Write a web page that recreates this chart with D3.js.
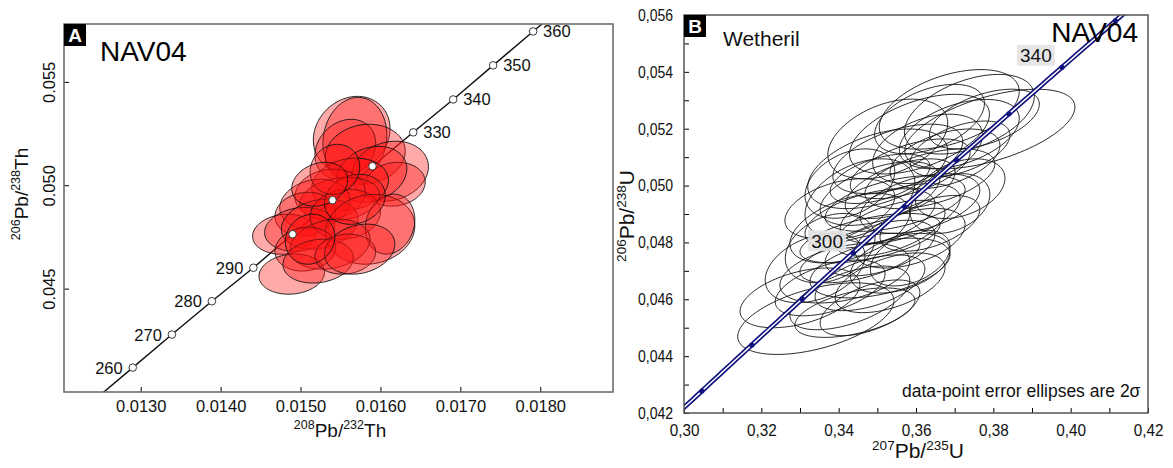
<!DOCTYPE html>
<html>
<head>
<meta charset="utf-8">
<script src="https://cdn.jsdelivr.net/npm/d3@7"></script>
<style>
  body { margin: 0; background: #fff; }
  text { font-family: "Liberation Sans", Arial, sans-serif; }
</style>
</head>
<body>
<script>
// ---- Panel A : 206Pb/238U vs 208Pb/232Th, 2s error ellipses
const thX   = [0.01564,0.01568,0.01556,0.01581,0.01612,0.01618,0.01589,0.01562,0.01537,0.01549,0.01518,0.01506,0.01480,0.01499,0.01524,0.01556,0.01587,0.01612,0.01537,0.01506,0.01489,0.01522,0.01556,0.01574,0.01512,0.01568,0.01543,0.01524];
const thY   = [0.05246,0.05222,0.05174,0.05150,0.05068,0.05005,0.05053,0.05005,0.04957,0.04932,0.04908,0.04860,0.04763,0.04787,0.04812,0.04860,0.04787,0.04812,0.04715,0.04691,0.04570,0.04633,0.04667,0.04691,0.04739,0.04932,0.05077,0.05005];
const thSx  = [0.00048,0.00040,0.00038,0.00050,0.00048,0.00038,0.00044,0.00048,0.00044,0.00050,0.00044,0.00038,0.00040,0.00044,0.00048,0.00044,0.00056,0.00031,0.00050,0.00038,0.00041,0.00044,0.00038,0.00044,0.00031,0.00038,0.00031,0.00035];
const thSy  = [0.00184,0.00203,0.00145,0.00145,0.00145,0.00106,0.00135,0.00126,0.00121,0.00106,0.00121,0.00106,0.00097,0.00106,0.00121,0.00121,0.00169,0.00145,0.00121,0.00106,0.00097,0.00106,0.00097,0.00121,0.00121,0.00121,0.00121,0.00106];
const thRho = [0.15,0.1,0.2,0.1,0.15,0.1,0.2,0.15,0.1,0.2,0.15,0.1,0.1,0.15,0.2,0.1,0.1,0.15,0.2,0.1,0.1,0.15,0.1,0.2,0.1,0.15,0.1,0.2];

// concordia marks (Ma) in panel A
const concAgeA = [260,270,280,290,300,310,320,330,340,350,360];
const concXA   = [0.01290,0.01339,0.01389,0.01441,0.01490,0.01540,0.01590,0.01641,0.01691,0.01741,0.01791];
const concYA   = [0.04118,0.04278,0.04439,0.04601,0.04763,0.04928,0.05092,0.05256,0.05415,0.05580,0.05744];
const concLabelA = [260,270,280,290,330,340,350,360];

const ticksXA = [0.0130,0.0140,0.0150,0.0160,0.0170,0.0180];
const ticksYA = [0.045,0.050,0.055];

// ---- Panel B : Wetherill concordia 206Pb/238U vs 207Pb/235U
const uX   = [0.3341,0.3300,0.3378,0.3429,0.3416,0.3339,0.3481,0.3507,0.3455,0.3507,0.3559,0.3378,0.3429,0.3481,0.3533,0.3559,0.3585,0.3455,0.3507,0.3559,0.3610,0.3636,0.3403,0.3481,0.3546,0.3501,0.3553,0.3585,0.3636,0.3630,0.3675,0.3609,0.3712,0.3714,0.3738,0.3791,0.3777,0.3686,0.3527,0.3714,0.3688,0.3533,0.3481,0.3442,0.3585,0.3507,0.3429,0.3635];
const uY   = [0.04532,0.04605,0.04640,0.04605,0.04692,0.04710,0.04658,0.04710,0.04745,0.04780,0.04727,0.04780,0.04850,0.04884,0.04850,0.04902,0.04815,0.04954,0.04972,0.04989,0.04937,0.04867,0.04919,0.04815,0.04937,0.05059,0.05094,0.05059,0.05024,0.05129,0.05094,0.05181,0.05181,0.05129,0.05251,0.05199,0.05234,0.05268,0.05164,0.04989,0.04937,0.04658,0.04570,0.04553,0.04745,0.05024,0.05007,0.05234];
const uSx  = [0.0202,0.0155,0.0142,0.0155,0.0168,0.0129,0.0142,0.0181,0.0155,0.0142,0.0129,0.0116,0.0155,0.0168,0.0142,0.0155,0.0142,0.0142,0.0155,0.0142,0.0155,0.0129,0.0142,0.0181,0.0181,0.0181,0.0168,0.0155,0.0168,0.0142,0.0142,0.0181,0.0155,0.0129,0.0168,0.0220,0.0142,0.0181,0.0155,0.0116,0.0103,0.0142,0.0129,0.0155,0.0103,0.0129,0.0116,0.0142];
const uSy  = [0.00126,0.00105,0.00098,0.00112,0.00105,0.00122,0.00098,0.00105,0.00087,0.00098,0.00105,0.00122,0.00122,0.00105,0.00098,0.00105,0.00105,0.00140,0.00112,0.00105,0.00105,0.00098,0.00105,0.00087,0.00098,0.00140,0.00122,0.00105,0.00105,0.00122,0.00105,0.00140,0.00122,0.00098,0.00140,0.00140,0.00105,0.00140,0.00140,0.00105,0.00105,0.00105,0.00098,0.00087,0.00098,0.00087,0.00122,0.00122];
const uRho = [0.5,0.45,0.5,0.55,0.4,0.35,0.5,0.45,0.55,0.5,0.4,0.3,0.45,0.5,0.55,0.5,0.45,0.4,0.5,0.55,0.45,0.5,0.4,0.55,0.5,0.45,0.5,0.55,0.5,0.4,0.45,0.5,0.45,0.5,0.45,0.55,0.5,0.45,0.4,0.35,0.3,0.5,0.55,0.5,0.4,0.5,0.35,0.45];

// decay constants (1/yr) for the Wetherill concordia
const L238 = 1.55125e-10, L235 = 9.8485e-10;
const concAgeB = [270,280,290,300,310,320,330,340,350];
const concLabelB = [300,340];

const ticksXB = [0.30,0.31,0.32,0.33,0.34,0.35,0.36,0.37,0.38,0.39,0.40,0.41,0.42];
const ticksYB = [0.042,0.043,0.044,0.045,0.046,0.047,0.048,0.049,0.050,0.051,0.052,0.053,0.054,0.055,0.056];

const svg = d3.select("body").append("svg").attr("width", 1173).attr("height", 468);
const defs = svg.append("defs");

function ellipsePath(cx, cy, sx, sy, rho, xs, ys) {
  const k = Math.sqrt(1 - rho * rho);
  const pts = d3.range(0, 120).map(i => {
    const t = i / 120 * 2 * Math.PI;
    return [xs(cx + sx * Math.cos(t)), ys(cy + sy * (rho * Math.cos(t) + k * Math.sin(t)))];
  });
  return d3.line()(pts) + "Z";
}

function supLabel(g, parts, size, supSize) {
  // parts: [sup, base, sup, base]
  const t = g.append("text").attr("font-size", size).attr("fill", "#111");
  parts.forEach((p, i) => {
    const s = t.append("tspan").text(p);
    if (i % 2 === 0) s.attr("font-size", supSize).attr("dy", -size * 0.4);
    else s.attr("dy", size * 0.4);
  });
  return t;
}

// ================= Panel A =================
const xA = d3.scaleLinear().domain([0.01204, 0.01891]).range([64, 613]);
const yA = d3.scaleLinear().domain([0.0400, 0.0578]).range([392, 24]);
defs.append("clipPath").attr("id", "clipA").append("rect")
  .attr("x", 64).attr("y", 24).attr("width", 549).attr("height", 368);

const gA = svg.append("g");
const n = concXA.length;
const lineA = [[2 * concXA[0] - concXA[1], 2 * concYA[0] - concYA[1]]]
  .concat(concXA.map((x, i) => [x, concYA[i]]))
  .concat([[2 * concXA[n - 1] - concXA[n - 2], 2 * concYA[n - 1] - concYA[n - 2]]]);
gA.append("path")
  .attr("clip-path", "url(#clipA)")
  .attr("d", d3.line().x(d => xA(d[0])).y(d => yA(d[1]))(lineA))
  .attr("fill", "none").attr("stroke", "#111").attr("stroke-width", 1.4);

gA.append("g").selectAll("path")
  .data(thX.map((x, i) => i))
  .enter().append("path")
  .attr("d", i => ellipsePath(thX[i], thY[i], thSx[i], thSy[i], thRho[i], xA, yA))
  .attr("fill", "#ff1010").attr("fill-opacity", 0.36)
  .attr("stroke", "#111").attr("stroke-width", 0.9);

gA.append("g").selectAll("circle")
  .data(concAgeA.map((a, i) => i))
  .enter().append("circle")
  .attr("cx", i => xA(concXA[i]))
  .attr("cy", i => yA(concYA[i]))
  .attr("r", 3.8)
  .attr("fill", "#fff").attr("stroke", "#222").attr("stroke-width", 0.9);

gA.append("g").selectAll("text")
  .data(concLabelA)
  .enter().append("text")
  .attr("x", a => { const i = concAgeA.indexOf(a); return a < 300 ? xA(concXA[i]) - 10 : xA(concXA[i]) + 10; })
  .attr("y", a => yA(concYA[concAgeA.indexOf(a)]) + 6)
  .attr("text-anchor", a => a < 300 ? "end" : "start")
  .attr("font-size", 16.5).attr("fill", "#111")
  .text(a => a);

// axes A (inward ticks)
const axXA = gA.append("g").attr("transform", "translate(0,392)")
  .call(d3.axisBottom(xA).tickValues(ticksXA).tickFormat(d3.format(".4f"))
    .tickSizeInner(-5).tickSizeOuter(0).tickPadding(8));
axXA.select(".domain").remove();
axXA.attr("font-size", 16.5).attr("font-family", "Liberation Sans, Arial, sans-serif");
axXA.selectAll("text").attr("fill", "#111");

const axYA = gA.append("g").attr("transform", "translate(64,0)")
  .call(d3.axisLeft(yA).tickValues(ticksYA).tickFormat(d3.format(".3f"))
    .tickSizeInner(-5).tickSizeOuter(0));
axYA.select(".domain").remove();
axYA.attr("font-size", 16.5).attr("font-family", "Liberation Sans, Arial, sans-serif");
axYA.selectAll("text").attr("x", null).attr("dy", null).attr("fill", "#111")
  .attr("text-anchor", "middle").attr("transform", "translate(-9,0) rotate(-90)");

gA.append("rect").attr("x", 64).attr("y", 24).attr("width", 549).attr("height", 368)
  .attr("fill", "none").attr("stroke", "#666").attr("stroke-width", 1.5);

gA.append("rect").attr("x", 64).attr("y", 24).attr("width", 22).attr("height", 22).attr("fill", "#000");
gA.append("text").attr("x", 75).attr("y", 42).attr("text-anchor", "middle")
  .attr("font-size", 19).attr("font-weight", "bold").attr("fill", "#fff").text("A");
gA.append("text").attr("x", 100).attr("y", 61).attr("font-size", 28).attr("fill", "#000").text("NAV04");

const tXA = supLabel(gA, ["208", "Pb/", "232", "Th"], 19, 12.5);
tXA.attr("x", 340).attr("y", 437).attr("text-anchor", "middle");
const tYA = supLabel(gA, ["206", "Pb/", "238", "Th"], 19, 12.5);
tYA.attr("text-anchor", "middle").attr("transform", "translate(28,194) rotate(-90)");

// ================= Panel B =================
const xB = d3.scaleLinear().domain([0.30, 0.42]).range([684, 1148]);
const yB = d3.scaleLinear().domain([0.042, 0.056]).range([413, 15]);
defs.append("clipPath").attr("id", "clipB").append("rect")
  .attr("x", 684).attr("y", 15).attr("width", 464).attr("height", 398);
const gB = svg.append("g");

gB.append("g").attr("clip-path", "url(#clipB)").selectAll("path")
  .data(uX.map((x, i) => i))
  .enter().append("path")
  .attr("d", i => ellipsePath(uX[i], uY[i], uSx[i], uSy[i], uRho[i], xB, yB))
  .attr("fill", "none").attr("stroke", "#111").attr("stroke-width", 0.9);

// concordia curve
const concCurve = d3.range(250, 371).map(t => [Math.exp(L235 * t * 1e6) - 1, Math.exp(L238 * t * 1e6) - 1]);
const lineB = d3.line().x(d => xB(d[0])).y(d => yB(d[1]));
gB.append("path").attr("clip-path", "url(#clipB)").attr("d", lineB(concCurve))
  .attr("fill", "none").attr("stroke", "#10107e").attr("stroke-width", 4.8);
gB.append("path").attr("clip-path", "url(#clipB)").attr("d", lineB(concCurve))
  .attr("fill", "none").attr("stroke", "#fff").attr("stroke-width", 1.5);
gB.append("g").selectAll("circle")
  .data(concAgeB)
  .enter().append("circle")
  .attr("cx", t => xB(Math.exp(L235 * t * 1e6) - 1))
  .attr("cy", t => yB(Math.exp(L238 * t * 1e6) - 1))
  .attr("r", 2.6).attr("fill", "#10107e");

const lab = gB.append("g").selectAll("g")
  .data(concLabelB)
  .enter().append("g")
  .attr("transform", t => "translate(" + (xB(Math.exp(L235 * t * 1e6) - 1) - 26) + "," + (yB(Math.exp(L238 * t * 1e6) - 1) - 12) + ")");
lab.append("rect").attr("x", -19).attr("y", -10.5).attr("width", 38).attr("height", 21)
  .attr("fill", "#e4e4e4").attr("fill-opacity", 0.92);
lab.append("text").attr("y", 7).attr("text-anchor", "middle").attr("font-size", 19).attr("fill", "#111")
  .text(t => t);

const commaFmt = d3.formatLocale({ decimal: ",", thousands: ".", grouping: [3], currency: ["", ""] });
const fx = commaFmt.format(".2f"), fy = commaFmt.format(".3f");
// narrow face for the tick labels of panel B
const squeezeX = 0.9, squeezeY = 0.85;

const axXB = gB.append("g").attr("transform", "translate(0,413)")
  .call(d3.axisBottom(xB).tickValues(ticksXB)
    .tickFormat(d => Math.round(d * 100) % 2 === 0 ? fx(d) : "")
    .tickSizeInner(-5).tickSizeOuter(0).tickPadding(11));
axXB.select(".domain").remove();
axXB.attr("font-size", 17).attr("font-family", "Liberation Sans, Arial, sans-serif");
axXB.selectAll("text").attr("fill", "#111").attr("transform", "scale(" + squeezeX + ",1)");

const axYB = gB.append("g").attr("transform", "translate(684,0)")
  .call(d3.axisLeft(yB).tickValues(ticksYB)
    .tickFormat(d => Math.round(d * 1000) % 2 === 0 ? fy(d) : "")
    .tickSizeInner(-5).tickSizeOuter(0).tickPadding(11));
axYB.select(".domain").remove();
axYB.attr("font-size", 16.5).attr("font-family", "Liberation Sans, Arial, sans-serif");
axYB.selectAll("text").attr("fill", "#111").attr("x", -11 / squeezeY)
  .attr("transform", "scale(" + squeezeY + ",1)");

gB.append("rect").attr("x", 684).attr("y", 15).attr("width", 464).attr("height", 398)
  .attr("fill", "none").attr("stroke", "#555").attr("stroke-width", 1.5);

gB.append("rect").attr("x", 684).attr("y", 15).attr("width", 22).attr("height", 22).attr("fill", "#000");
gB.append("text").attr("x", 695).attr("y", 33).attr("text-anchor", "middle")
  .attr("font-size", 19).attr("font-weight", "bold").attr("fill", "#fff").text("B");
gB.append("text").attr("x", 723).attr("y", 46).attr("font-size", 21).attr("fill", "#111").text("Wetheril");
gB.append("text").attr("x", 1138).attr("y", 42).attr("text-anchor", "end").attr("font-size", 28).attr("fill", "#000").text("NAV04");
gB.append("text").attr("x", 902).attr("y", 397).attr("font-size", 17.5).attr("fill", "#111")
  .text("data-point error ellipses are 2σ");

const tXB = supLabel(gB, ["207", "Pb/", "235", "U"], 21, 13.5);
tXB.attr("x", 918).attr("y", 458).attr("text-anchor", "middle");
const tYB = supLabel(gB, ["206", "Pb/", "238", "U"], 21, 13.5);
tYB.attr("text-anchor", "middle").attr("transform", "translate(634,216) rotate(-90)");
</script>
</body>
</html>
